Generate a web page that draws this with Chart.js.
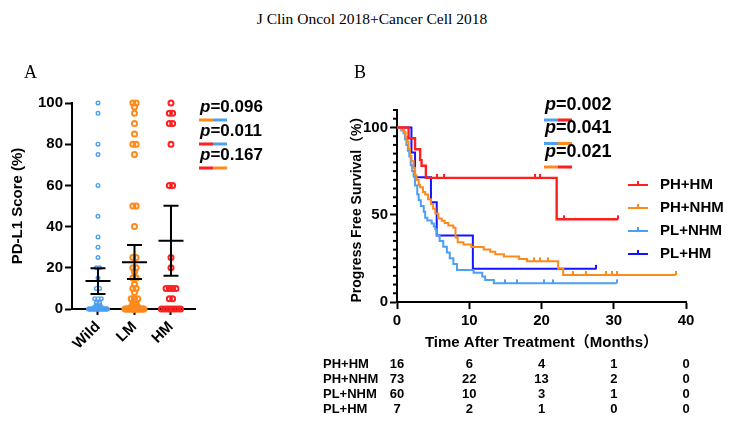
<!DOCTYPE html>
<html>
<head>
<meta charset="utf-8">
<script src="https://cdn.jsdelivr.net/npm/chart.js@4.4.0/dist/chart.umd.min.js"></script>
<style>
    html, body { margin: 0; padding: 0; background: #fff; }
    body { width: 744px; height: 426px; position: relative; overflow: hidden; }
    #title {
        position: absolute; left: 0; top: 9px; width: 744px; text-align: center;
        font-family: 'Liberation Serif', 'Times New Roman', serif; font-size: 15.5px; line-height: 20px;
    }
    .panel {
        position: absolute; z-index: 2;
        font-family: 'Liberation Serif', 'Times New Roman', serif; font-size: 18px; line-height: 20px;
    }
    #wrapA { position: absolute; left: 0; top: 60px; width: 270px; height: 366px; }
    #wrapB { position: absolute; left: 300px; top: 60px; width: 444px; height: 366px; }
</style>
</head>
<body>
<div id="title">J Clin Oncol 2018+Cancer Cell 2018</div>
<div class="panel" style="left:24px; top:62px;">A</div>
<div class="panel" style="left:354px; top:62px;">B</div>
<div id="wrapA"><canvas id="chartA" width="270" height="366"></canvas></div>
<div id="wrapB"><canvas id="chartB" width="444" height="366"></canvas></div>

<script>
// ---- Panel A : PD-L1 score par groupe ----
const groups = ['Wild', 'LM', 'HM'];
const wildScores = [100, 95, 80, 75, 60, 45, 35, 30, 25, 20, 20, 15, 10, 10, 5, 5, 5, 3, 3, 2, 2, 1, 1, 1,
    0, 0, 0, 0, 0, 0, 0, 0, 0, 0, 0, 0, 0, 0, 0, 0, 0, 0, 0, 0, 0, 0, 0, 0, 0, 0];
const lmScores = [100, 100, 98, 95, 90, 85, 80, 80, 75, 50, 50, 40, 25, 25, 20, 20, 18, 15, 15, 12, 10, 10, 8,
    5, 5, 5, 3, 3, 2, 2, 1, 1, 1, 0, 0, 0, 0, 0, 0, 0, 0, 0, 0, 0, 0, 0, 0, 0, 0, 0, 0];
const hmScores = [100, 95, 95, 90, 90, 80, 60, 60, 25, 20, 10, 10, 10, 10, 5, 5, 0, 0, 0, 0, 0, 0, 0, 0];
const groupMeans = [13.6, 22.7, 33.1];
const groupErrLow = [7.3, 14.6, 16.2];
const groupErrHigh = [19.8, 31.1, 50.1];
const pValuesA = ['0.096', '0.011', '0.167'];

// ---- Panel B : Kaplan-Meier ----
const kmLabels = ['PH+HM', 'PH+NHM', 'PL+NHM', 'PL+HM'];
const phhmTime = [0, 1.6, 2.5, 3.2, 3.4, 4.0, 22.1];
const phhmSurv = [100, 93.8, 87.5, 81.3, 78.1, 71.1, 47.4];
const phhmCensor = [5.5, 6.5, 19.1, 19.8, 23.1, 30.6];
const phnhmTime = [0, 0.7, 1.0, 1.2, 1.4, 1.6, 1.8, 2.0, 2.3, 2.5, 2.7, 3.0, 3.2, 3.6, 3.9, 4.3, 4.7, 5.0,
    5.3, 5.7, 6.2, 6.6, 7.1, 7.8, 8.1, 8.4, 9.2, 10.3, 12.0, 12.9, 13.6, 14.8, 16.9, 18.0, 22.3, 23.0];
const phnhmSurv = [100, 98.6, 97.3, 94.5, 91.8, 87.7, 83.6, 80.8, 76.7, 72.6, 69.9, 67.1, 65.8, 63.0, 61.6,
    58.9, 56.2, 53.4, 50.7, 47.9, 46.6, 45.2, 43.8, 42.5, 37.0, 34.2, 32.9, 31.5, 30.1, 28.8, 27.4, 26.0,
    24.7, 23.3, 19.2, 15.5];
const phnhmCensor = [18.9, 19.8, 20.9, 24.4, 26.1, 28.9, 29.7, 30.4, 38.6];
const plnhmTime = [0, 0.6, 0.9, 1.1, 1.3, 1.5, 1.7, 1.9, 2.1, 2.3, 2.5, 2.8, 3.0, 3.3, 3.7, 3.9, 4.2, 4.8,
    5.1, 5.3, 5.5, 5.9, 6.4, 6.9, 7.3, 7.8, 8.3, 10.6, 11.8, 12.2, 13.4];
const plnhmSurv = [100, 98.3, 96.7, 93.3, 90, 86.7, 83.3, 78.3, 75, 71.7, 66.7, 61.7, 58.3, 55, 51.7, 48.3,
    46.7, 45, 43.3, 41.7, 38.3, 35, 31.7, 28.3, 25, 21.7, 18.3, 16.7, 14.6, 12.6, 10.7];
const plnhmCensor = [15.0, 16.6, 20.3, 21.6, 30.4];
const plhmTime = [0, 2.0, 2.5, 4.7, 5.5, 10.5];
const plhmSurv = [100, 85.7, 71.4, 57.1, 38.1, 19.0];
const plhmCensor = [27.6];
const pValuesB = ['0.002', '0.041', '0.021'];

// Nombre à risque
const riskTimes = [0, 10, 20, 30, 40];
const riskPhhm = [16, 6, 4, 1, 0];
const riskPhnhm = [73, 22, 13, 2, 0];
const riskPlnhm = [60, 10, 3, 1, 0];
const riskPlhm = [7, 2, 1, 0, 0];

// Couleurs
const red = '#ff1f1f', orange = '#ff8a1c', lightBlue = '#4d9ff2', darkBlue = '#1414ff';
const groupColors = [lightBlue, orange, red];
const kmColors = [red, orange, lightBlue, darkBlue];

const sansFamily = "'Liberation Sans', Arial, 'Noto Sans CJK SC', sans-serif";
Chart.defaults.font.family = sansFamily;
Chart.defaults.color = '#000';

function bold(size) {
    return { family: sansFamily, size: size, weight: 'bold' };
}

// étale les points identiques horizontalement
function swarm(values, center, step, maxSpread) {
    const counts = {};
    values.forEach(v => { counts[v] = (counts[v] || 0) + 1; });
    const seen = {};
    return values.map(v => {
        const k = counts[v];
        seen[v] = seen[v] === undefined ? 0 : seen[v] + 1;
        const gap = k > 1 ? Math.min(step, maxSpread / (k - 1)) : 0;
        return { x: center + (seen[v] - (k - 1) / 2) * gap, y: v };
    });
}

function drawPValues(ctx, values, pairs, colors, x, y0, gap, lineOffset, size) {
    ctx.save();
    ctx.textBaseline = 'middle';
    ctx.textAlign = 'left';
    values.forEach((val, i) => {
        const y = y0 + i * gap;
        ctx.fillStyle = '#000';
        ctx.font = `italic bold ${size}px ${sansFamily}`;
        ctx.fillText('p', x, y);
        const w = ctx.measureText('p').width;
        ctx.font = `bold ${size}px ${sansFamily}`;
        ctx.fillText('=' + val, x + w, y);
        const ly = y + lineOffset;
        ctx.lineWidth = 3;
        ctx.strokeStyle = colors[pairs[i][0]];
        ctx.beginPath(); ctx.moveTo(x - 1, ly); ctx.lineTo(x + 13, ly); ctx.stroke();
        ctx.strokeStyle = colors[pairs[i][1]];
        ctx.beginPath(); ctx.moveTo(x + 13, ly); ctx.lineTo(x + 27, ly); ctx.stroke();
    });
    ctx.restore();
}

// ---------- Chart A ----------
const scoreLists = [wildScores, lmScores, hmScores];

const meanBarsPlugin = {
    id: 'meanBars',
    afterDatasetsDraw(chart) {
        const { ctx, scales: { x, y } } = chart;
        ctx.save();
        ctx.strokeStyle = '#000';
        ctx.lineWidth = 2;
        groups.forEach((g, i) => {
            const cx = x.getPixelForValue(i + 1);
            const ym = y.getPixelForValue(groupMeans[i]);
            const yl = y.getPixelForValue(groupErrLow[i]);
            const yh = y.getPixelForValue(groupErrHigh[i]);
            ctx.beginPath();
            ctx.moveTo(cx - 12.5, ym); ctx.lineTo(cx + 12.5, ym);
            ctx.moveTo(cx, yl); ctx.lineTo(cx, yh);
            ctx.moveTo(cx - 7.5, yl); ctx.lineTo(cx + 7.5, yl);
            ctx.moveTo(cx - 7.5, yh); ctx.lineTo(cx + 7.5, yh);
            ctx.stroke();
        });
        ctx.restore();
    },
    afterDraw(chart) {
        drawPValues(chart.ctx, pValuesA, [[1, 0], [2, 0], [2, 1]], groupColors, 200, 47, 24, 13, 17);
    }
};

new Chart(document.getElementById('chartA'), {
    type: 'scatter',
    data: {
        datasets: groups.map((g, i) => ({
            label: g,
            data: swarm(scoreLists[i], i + 1, 0.09, 0.52),
            pointStyle: 'circle',
            pointRadius: i === 0 ? 1.8 : 2.5,
            pointBorderWidth: i === 0 ? 1.4 : 2,
            borderColor: groupColors[i],
            backgroundColor: 'rgba(255,255,255,0)',
            clip: false
        }))
    },
    options: {
        responsive: false,
        animation: false,
        layout: { padding: { left: 0, top: 43, right: 75, bottom: 72 } },
        plugins: { legend: { display: false }, tooltip: { enabled: false } },
        scales: {
            x: {
                type: 'linear',
                min: 0.288,
                max: 3.658,
                afterBuildTicks: s => { s.ticks = groups.map((g, i) => ({ value: i + 1 })); },
                afterFit: s => { s.height = 45; },
                ticks: {
                    callback: v => groups[v - 1],
                    font: bold(15),
                    color: '#000',
                    minRotation: 45,
                    maxRotation: 45,
                    autoSkip: false,
                    padding: 3
                },
                grid: { drawOnChartArea: false, tickLength: 6, tickWidth: 2, tickColor: '#000' },
                border: { color: '#000', width: 2 }
            },
            y: {
                min: 0,
                max: 100,
                afterFit: s => { s.width = 72; },
                ticks: { stepSize: 20, font: bold(15), color: '#000', padding: 2 },
                grid: { drawOnChartArea: false, tickLength: 7, tickWidth: 2, tickColor: '#000' },
                border: { color: '#000', width: 2 },
                title: {
                    display: true,
                    text: 'PD-L1 Score (%)',
                    font: bold(15),
                    color: '#000',
                    padding: { top: 9, bottom: 0 }
                }
            }
        }
    },
    plugins: [meanBarsPlugin]
});

// ---------- Chart B ----------
const kmTimes = [phhmTime, phnhmTime, plnhmTime, plhmTime];
const kmSurvs = [phhmSurv, phnhmSurv, plnhmSurv, plhmSurv];
const kmCensors = [phhmCensor, phnhmCensor, plnhmCensor, plhmCensor];
const riskRows = [riskPhhm, riskPhnhm, riskPlnhm, riskPlhm];

function survAt(times, survs, t) {
    let s = survs[0];
    times.forEach((ti, i) => { if (ti <= t) s = survs[i]; });
    return s;
}

// petit trait vertical pour les censures
function tickMark(color) {
    const c = document.createElement('canvas');
    c.width = 2;
    c.height = 10;
    const g = c.getContext('2d');
    g.fillStyle = color;
    g.fillRect(0, 1, 2, 4);
    return c;
}

const curveSets = kmLabels.map((label, i) => {
    const times = kmTimes[i], survs = kmSurvs[i], cens = kmCensors[i];
    const pts = times.map((t, j) => ({ x: t, y: survs[j] }));
    pts.push({ x: cens[cens.length - 1], y: survs[survs.length - 1] });
    return {
        type: 'line',
        label: label,
        data: pts,
        stepped: true,
        borderColor: kmColors[i],
        borderWidth: i === 0 ? 2.4 : 2,
        pointRadius: 0,
        fill: false,
        order: i
    };
});

const censorSets = kmLabels.map((label, i) => ({
    type: 'scatter',
    label: label + ' censored',
    data: kmCensors[i].map(t => ({ x: t, y: survAt(kmTimes[i], kmSurvs[i], t) })),
    pointStyle: tickMark(kmColors[i]),
    pointRadius: 3,
    showLine: false,
    order: i
}));

const kmExtrasPlugin = {
    id: 'kmExtras',
    afterDraw(chart) {
        const { ctx, chartArea, scales: { x, y } } = chart;
        ctx.save();
        // graduations secondaires de l'axe Y
        ctx.strokeStyle = '#000';
        ctx.lineWidth = 2;
        for (let v = 5; v <= 110; v += 5) {
            if (v % 50 === 0) continue;
            const py = y.getPixelForValue(v);
            ctx.beginPath();
            ctx.moveTo(chartArea.left - 4, py);
            ctx.lineTo(chartArea.left, py);
            ctx.stroke();
        }
        // légende
        ctx.textBaseline = 'middle';
        ctx.textAlign = 'left';
        ctx.font = `bold 15px ${sansFamily}`;
        kmLabels.forEach((label, i) => {
            const ly = 125 + i * 23;
            ctx.strokeStyle = kmColors[i];
            ctx.lineWidth = 2;
            ctx.beginPath();
            ctx.moveTo(328, ly); ctx.lineTo(348, ly);
            ctx.moveTo(338, ly); ctx.lineTo(338, ly - 4);
            ctx.stroke();
            ctx.fillStyle = '#000';
            ctx.fillText(label, 360, ly);
        });
        // tableau des effectifs à risque
        ctx.font = `bold 13px ${sansFamily}`;
        kmLabels.forEach((label, i) => {
            const ry = 304 + i * 15.3;
            ctx.textAlign = 'left';
            ctx.fillText(label, 23, ry);
            ctx.textAlign = 'center';
            riskTimes.forEach((t, j) => {
                ctx.fillText(String(riskRows[i][j]), x.getPixelForValue(t), ry);
            });
        });
        ctx.restore();
        drawPValues(ctx, pValuesB, [[2, 0], [2, 1], [1, 0]], kmColors, 245, 45, 23.5, 15, 18);
    }
};

new Chart(document.getElementById('chartB'), {
    type: 'line',
    data: { datasets: [...curveSets, ...censorSets] },
    options: {
        responsive: false,
        animation: false,
        layout: { padding: { left: 40, top: 50, right: 58, bottom: 74 } },
        plugins: { legend: { display: false }, tooltip: { enabled: false } },
        scales: {
            x: {
                type: 'linear',
                min: 0,
                max: 40,
                afterFit: s => { s.height = 50; },
                ticks: { stepSize: 10, font: bold(15), color: '#000', padding: 3 },
                grid: { drawOnChartArea: false, tickLength: 7, tickWidth: 2, tickColor: '#000' },
                border: { color: '#000', width: 2 },
                title: {
                    display: true,
                    text: 'Time After Treatment（Months）',
                    font: bold(15),
                    color: '#000',
                    padding: { top: 0, bottom: 0 }
                }
            },
            y: {
                min: 0,
                max: 110,
                afterFit: s => { s.width = 57; },
                afterBuildTicks: s => { s.ticks = [0, 50, 100].map(v => ({ value: v })); },
                ticks: { font: bold(15), color: '#000', padding: 2 },
                grid: { drawOnChartArea: false, tickLength: 7, tickWidth: 2, tickColor: '#000' },
                border: { color: '#000', width: 2 },
                title: {
                    display: true,
                    text: 'Progress Free Survival（%）',
                    font: bold(14),
                    color: '#000',
                    padding: { top: 9, bottom: 0 }
                }
            }
        }
    },
    plugins: [kmExtrasPlugin]
});
</script>
</body>
</html>
